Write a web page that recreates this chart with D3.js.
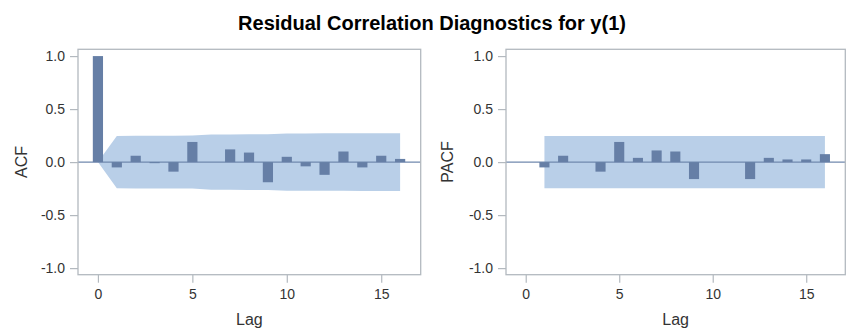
<!DOCTYPE html>
<html>
<head>
<meta charset="utf-8">
<script src="https://cdn.jsdelivr.net/npm/d3@7"></script>
<style>
  html, body { margin: 0; padding: 0; background: #fff; }
  svg { display: block; font-family: "Liberation Sans", Arial, sans-serif; }
</style>
</head>
<body>
<svg id="chart" width="846" height="329"></svg>
<script>
// ---- data ----
const title = "Residual Correlation Diagnostics for y(1)";
const acfLags = [0, 1, 2, 3, 4, 5, 6, 7, 8, 9, 10, 11, 12, 13, 14, 15, 16];
const acfValues = [1.0, -0.05, 0.06, -0.01, -0.09, 0.19, 0.0, 0.12, 0.09, -0.19, 0.05, -0.04, -0.12, 0.10, -0.05, 0.06, 0.03];
const acfBand = [0, 0.247, 0.248, 0.248, 0.249, 0.25, 0.26, 0.26, 0.262, 0.263, 0.27, 0.27, 0.271, 0.271, 0.272, 0.272, 0.273];
const pacfLags = [1, 2, 3, 4, 5, 6, 7, 8, 9, 10, 11, 12, 13, 14, 15, 16];
const pacfValues = [-0.05, 0.06, 0.0, -0.09, 0.19, 0.04, 0.11, 0.10, -0.16, 0.0, 0.0, -0.16, 0.04, 0.025, 0.025, 0.075];
const pacfBand = [0.247, 0.247, 0.247, 0.247, 0.247, 0.247, 0.247, 0.247, 0.247, 0.247, 0.247, 0.247, 0.247, 0.247, 0.247, 0.247];
const xTicks = [0, 5, 10, 15];
const yTicks = [-1.0, -0.5, 0.0, 0.5, 1.0];
const yLabels = ["ACF", "PACF"];
const xLabel = "Lag";

// ---- style ----
const barColor = "#667fa6";
const bandColor = "#b9cfe8";
const zeroColor = "#7189ae";
const frameColor = "#b3b9bf";
const textColor = "#333";

const svg = d3.select("#chart");

svg.append("text")
  .attr("x", 432).attr("y", 30)
  .attr("text-anchor", "middle")
  .attr("font-size", 20).attr("font-weight", "bold")
  .attr("fill", "#000")
  .text(title);

const panels = [
  { left: 78, right: 420.7, lags: acfLags, values: acfValues, band: acfBand, label: yLabels[0], labelX: 21 },
  { left: 506, right: 845.3, lags: pacfLags, values: pacfValues, band: pacfBand, label: yLabels[1], labelX: 447 }
];
const frameTop = 49.3, frameBottom = 274.7;

panels.forEach(p => {
  const x = d3.scaleLinear().domain([-1.055, 17.09]).range([p.left, p.right]);
  const y = d3.scaleLinear().domain([-1.062, 1.064]).range([frameBottom, frameTop]);
  const g = svg.append("g");

  // confidence band
  const bandData = p.lags.map((l, i) => ({ lag: l, b: p.band[i] }));
  g.append("path")
    .datum(bandData)
    .attr("fill", bandColor)
    .attr("d", d3.area().x(d => x(d.lag)).y0(d => y(-d.b)).y1(d => y(d.b)));

  // zero line
  g.append("line")
    .attr("x1", p.left).attr("x2", p.right)
    .attr("y1", y(0)).attr("y2", y(0))
    .attr("stroke", zeroColor).attr("stroke-width", 1.2);

  // bars
  const bw = x(0.54) - x(0);
  g.selectAll("rect.bar")
    .data(p.lags.map((l, i) => ({ lag: l, v: p.values[i] })))
    .join("rect")
    .attr("class", "bar")
    .attr("x", d => x(d.lag) - bw / 2)
    .attr("width", bw)
    .attr("y", d => Math.min(y(d.v), y(0)))
    .attr("height", d => Math.abs(y(d.v) - y(0)))
    .attr("fill", barColor);

  // frame
  g.append("rect")
    .attr("x", p.left).attr("y", frameTop)
    .attr("width", p.right - p.left).attr("height", frameBottom - frameTop)
    .attr("fill", "none").attr("stroke", frameColor).attr("stroke-width", 1.3);

  // axes
  const ya = g.append("g").attr("transform", `translate(${p.left},0)`)
    .call(d3.axisLeft(y).tickValues(yTicks).tickSize(8).tickPadding(5).tickFormat(d => d.toFixed(1)));
  const xa = g.append("g").attr("transform", `translate(0,${frameBottom})`)
    .call(d3.axisBottom(x).tickValues(xTicks).tickSize(8).tickPadding(6).tickFormat(d3.format("d")));
  [ya, xa].forEach(a => {
    a.select(".domain").remove();
    a.selectAll(".tick line").attr("stroke", frameColor).attr("stroke-width", 1.2);
    a.selectAll(".tick text").attr("fill", textColor).attr("font-size", 14)
      .attr("font-family", "Liberation Sans, Arial, sans-serif");
  });

  // axis labels
  g.append("text")
    .attr("x", (p.left + p.right) / 2).attr("y", 325)
    .attr("text-anchor", "middle").attr("font-size", 16).attr("fill", textColor)
    .text(xLabel);
  g.append("text")
    .attr("transform", `translate(${p.labelX + 5.5},${162}) rotate(-90)`)
    .attr("text-anchor", "middle").attr("font-size", 16).attr("fill", textColor)
    .text(p.label);
});
</script>
</body>
</html>
